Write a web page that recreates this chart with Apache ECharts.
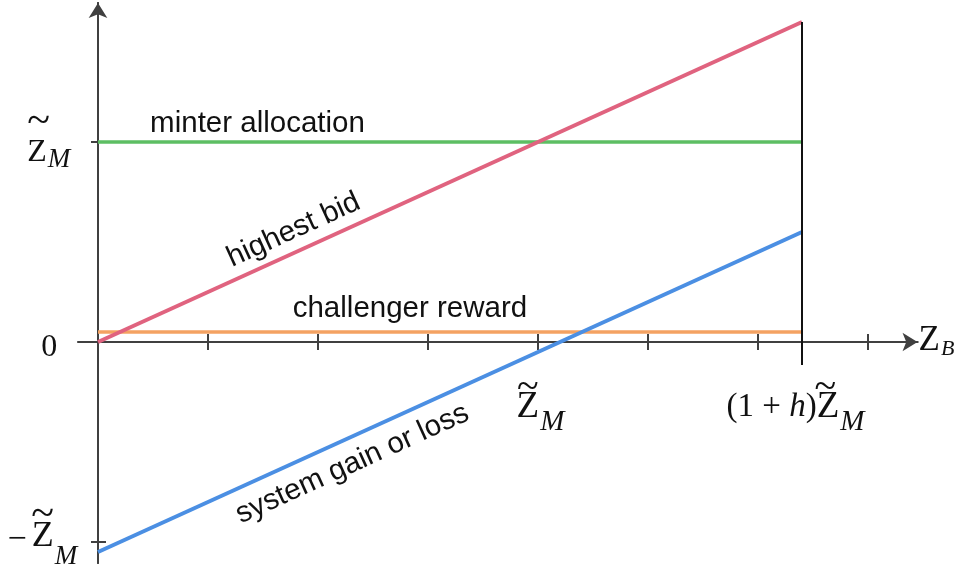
<!DOCTYPE html>
<html>
<head>
<meta charset="utf-8">
<script src="https://cdn.jsdelivr.net/npm/echarts@6/dist/echarts.min.js"></script>
<style>
  html, body { margin: 0; padding: 0; background: #ffffff; }
  #chart { width: 959px; height: 571px; }
</style>
</head>
<body>
<div id="chart"></div>
<script>
// Outcomes against the bid Z_B, everything in units of Z̃_M (h = 0.6)
const bidEnds = [0, 1.6];
const minterAllocation = [1, 1];
const highestBid = [0, 1.6];
const challengerReward = [0.05, 0.05];
const systemGainOrLoss = [-1.05, 0.55];

// vertical bound at (1+h)·Z̃_M
const boundX = [1.6, 1.6];
const boundY = [-0.115, 1.6];

// axis ticks and labelled values
const xTickValues = [0.25, 0.5, 0.75, 1, 1.25, 1.5, 1.75];
const xLabelValues = [1, 1.6];
const yTickValues = [-1, 1];
const yLabelValues = [-1, 0, 1];

const xRange = [-0.045, 1.8625];
const yRange = [-1.105, 1.695];
const GRID = { left: 78.2, top: 3, width: 839.3, height: 560 };

const axisColor = '#404040';
const serif = '"Liberation Serif", "DejaVu Serif", serif';
const sans = '"Liberation Sans", Arial, sans-serif';

const measureCtx = document.createElement('canvas').getContext('2d');
function textWidth(str, size, style) {
  measureCtx.font = (style ? style + ' ' : '') + size + 'px ' + serif;
  return measureCtx.measureText(str).width;
}
// left padding that puts a tilde over the Z that follows `before` pixels of text
function tildePad(before, tildeSize, zSize) {
  return Math.max(0, before + (textWidth('Z', zSize) - textWidth('~', tildeSize)) / 2);
}

function pairs(xs, ys) { return xs.map((x, i) => [x, ys[i]]); }
function valueAt(xs, ys, x) {
  const t = (x - xs[0]) / (xs[1] - xs[0]);
  return ys[0] + t * (ys[1] - ys[0]);
}
const pxPerX = GRID.width / (xRange[1] - xRange[0]);
const pxPerY = GRID.height / (yRange[1] - yRange[0]);
function slopeAngle(ys) {
  const s = (ys[1] - ys[0]) / (bidEnds[1] - bidEnds[0]);
  return Math.atan(s * pxPerY / pxPerX) * 180 / Math.PI;
}

// a text note lying along a line, anchored at bid value x
function note(text, ys, x, offsetY) {
  return {
    name: text,
    coord: [x, valueAt(bidEnds, ys, x)],
    label: { rotate: slopeAngle(ys), offset: [0, offsetY] }
  };
}
function notes(list) {
  return {
    symbol: 'circle',
    symbolSize: 1,
    silent: true,
    animation: false,
    itemStyle: { color: 'transparent' },
    label: {
      show: true,
      position: 'inside',
      formatter: '{b}',
      color: '#111111',
      fontFamily: sans,
      fontSize: 29.5
    },
    data: list
  };
}

function curve(name, ys, color, width, labelList) {
  return {
    name: name,
    type: 'line',
    xAxisIndex: 0,
    yAxisIndex: 0,
    data: pairs(bidEnds, ys),
    symbol: 'none',
    silent: true,
    lineStyle: { color: color, width: width, cap: 'butt' },
    markPoint: notes(labelList)
  };
}

const padTopLeft = tildePad(0, 42, 32);
const padBottomLeft = tildePad(textWidth('\u2212', 34) + 5, 42, 36);
const padX1 = tildePad(5, 40, 37);
const padX16 = tildePad(textWidth('(1 + ', 32) + textWidth('h', 32, 'italic') + textWidth(')', 32), 40, 37);

const ink = '#111111';
const yRich = {
  t1: { fontFamily: serif, fontSize: 42, lineHeight: 30, align: 'left', color: ink, padding: [0, 0, 0, padTopLeft] },
  z1: { fontFamily: serif, fontSize: 32, lineHeight: 30, align: 'left', verticalAlign: 'top', color: ink },
  m1: { fontFamily: serif, fontStyle: 'italic', fontSize: 27, lineHeight: 22, align: 'left', verticalAlign: 'top', color: ink, padding: [10, 7, 0, 1] },
  s1: { fontSize: 11, lineHeight: 11 },
  t2: { fontFamily: serif, fontSize: 42, lineHeight: 6, align: 'left', color: ink, padding: [0, 0, 0, padBottomLeft] },
  r2: { fontFamily: serif, fontSize: 34, lineHeight: 30, align: 'left', verticalAlign: 'top', color: ink, padding: [5, 5, 0, 0] },
  z2: { fontFamily: serif, fontSize: 36, lineHeight: 16, align: 'left', verticalAlign: 'top', color: ink, padding: [1, 0, 0, 0] },
  m2: { fontFamily: serif, fontStyle: 'italic', fontSize: 27, lineHeight: 22, align: 'left', verticalAlign: 'top', color: ink, padding: [25, 0, 0, 1] },
  s2: { fontSize: 24, lineHeight: 24 },
  n0: { fontFamily: serif, fontSize: 32, lineHeight: 32, align: 'left', color: ink, padding: [11, 20, 0, 0] }
};
const xRich = {
  ta: { fontFamily: serif, fontSize: 40, lineHeight: 1, align: 'left', color: ink, padding: [0, 0, 0, padX1] },
  tb: { fontFamily: serif, fontSize: 40, lineHeight: 1, align: 'left', color: ink, padding: [0, 0, 0, padX16] },
  za: { fontFamily: serif, fontSize: 37, lineHeight: 34, align: 'left', verticalAlign: 'top', color: ink, padding: [0, 0, 0, 5] },
  zb: { fontFamily: serif, fontSize: 37, lineHeight: 34, align: 'left', verticalAlign: 'top', color: ink },
  ma: { fontFamily: serif, fontStyle: 'italic', fontSize: 29, lineHeight: 26, align: 'left', verticalAlign: 'top', color: ink, padding: [19, 0, 0, 1] },
  mb: { fontFamily: serif, fontStyle: 'italic', fontSize: 29, lineHeight: 26, align: 'left', verticalAlign: 'top', color: ink, padding: [19, 13, 0, 1] },
  p: { fontFamily: serif, fontSize: 33, lineHeight: 34, align: 'left', verticalAlign: 'top', color: ink, padding: [2, 0, 0, 0] },
  h: { fontFamily: serif, fontStyle: 'italic', fontSize: 33, lineHeight: 34, align: 'left', verticalAlign: 'top', color: ink, padding: [2, 0, 0, 0] }
};
const nameRich = {
  nz: { fontFamily: serif, fontSize: 35, lineHeight: 30, align: 'left', verticalAlign: 'top', color: ink },
  nb: { fontFamily: serif, fontStyle: 'italic', fontSize: 22, lineHeight: 20, align: 'left', verticalAlign: 'top', color: ink, padding: [15.5, 0, 0, 1] }
};

function yLabel(v) {
  if (v === 1) return '{t1|~}\n{z1|Z}{m1|M}\n{s1| }';
  if (v === -1) return '{t2|~}\n{r2|\u2212}{z2|Z}{m2|M}\n{s2| }';
  return '{n0|0}';
}
function xLabel(v) {
  if (v === 1) return '{ta|~}\n{za|Z}{ma|M}';
  return '{tb|~}\n{p|(1 + }{h|h}{p|)}{zb|Z}{mb|M}';
}

const lineBase = { onZero: true, onZeroAxisIndex: 0, lineStyle: { color: axisColor, width: 2 } };
const tickStyle = { color: axisColor, width: 2 };

const option = {
  animation: false,
  backgroundColor: '#ffffff',
  grid: Object.assign({ containLabel: false, outerBoundsMode: 'none' }, GRID),
  xAxis: [
    {
      type: 'value', position: 'bottom', min: xRange[0], max: xRange[1],
      splitLine: { show: false },
      axisLine: Object.assign({ symbol: ['none', 'arrow'], symbolSize: [14, 15] }, lineBase),
      axisTick: { show: true, customValues: xTickValues, length: 8, inside: false, lineStyle: tickStyle },
      // labels are placed from the grid's bottom edge, so pull them up to the zero line
      axisLabel: { show: true, customValues: xLabelValues, margin: -175, showMinLabel: true, showMaxLabel: true, formatter: xLabel, rich: xRich },
      name: '{nz|Z}{nb|B}', nameLocation: 'end', nameGap: 1,
      nameTextStyle: { rich: nameRich, verticalAlign: 'middle', align: 'left', padding: [0, 0, 8, 0] }
    },
    {
      type: 'value', position: 'bottom', min: xRange[0], max: xRange[1],
      splitLine: { show: false },
      axisLine: Object.assign({ symbol: 'none' }, lineBase),
      axisTick: { show: true, customValues: xTickValues, length: 8, inside: true, lineStyle: tickStyle },
      axisLabel: { show: false }
    }
  ],
  yAxis: [
    {
      type: 'value', position: 'left', min: yRange[0], max: yRange[1],
      splitLine: { show: false },
      axisLine: Object.assign({ symbol: ['none', 'arrow'], symbolSize: [14, 15] }, lineBase),
      axisTick: { show: true, customValues: yTickValues, length: 7, inside: false, lineStyle: tickStyle },
      axisLabel: { show: true, customValues: yLabelValues, margin: 1, showMinLabel: true, showMaxLabel: true, formatter: yLabel, rich: yRich }
    },
    {
      type: 'value', position: 'left', min: yRange[0], max: yRange[1],
      splitLine: { show: false },
      axisLine: Object.assign({ symbol: 'none' }, lineBase),
      axisTick: { show: true, customValues: yTickValues, length: 8, inside: true, lineStyle: tickStyle },
      axisLabel: { show: false }
    }
  ],
  series: [
    curve('minter allocation', minterAllocation, '#5dbe63', 3.5, [note('minter allocation', minterAllocation, 0.3625, -18)]),
    curve('challenger reward', challengerReward, '#f4a262', 3.5, [note('challenger reward', challengerReward, 0.709, -23)]),
    curve('highest bid', highestBid, '#e0637f', 4, [note('highest bid', highestBid, 0.4645, -21)]),
    curve('system gain or loss', systemGainOrLoss, '#4b8fe3', 4, [note('system gain or loss', systemGainOrLoss, 0.5545, 25)]),
    {
      name: 'bound',
      type: 'line',
      data: pairs(boundX, boundY),
      symbol: 'none',
      silent: true,
      z: 3,
      lineStyle: { color: '#111111', width: 2, cap: 'butt' }
    }
  ]
};

const chart = echarts.init(document.getElementById('chart'), null, { renderer: 'canvas' });
chart.setOption(option);
</script>
</body>
</html>
